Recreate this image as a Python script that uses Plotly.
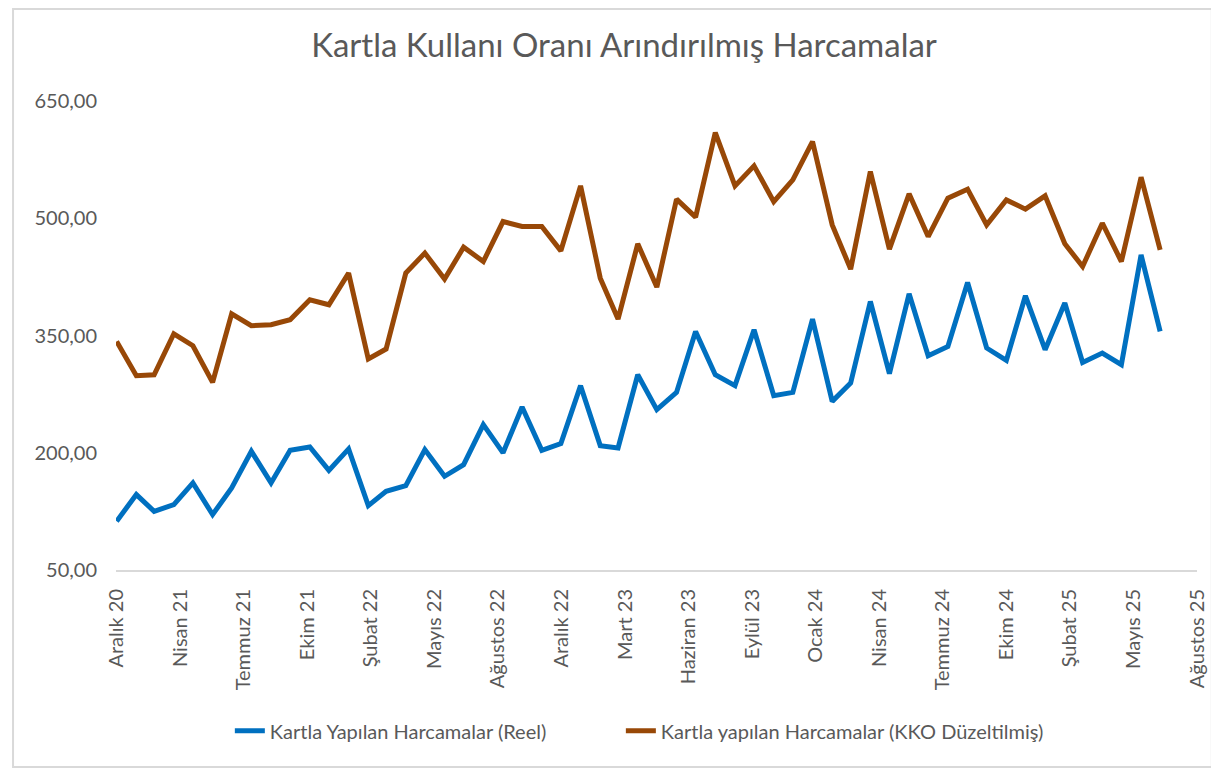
import pandas as pd
import plotly.graph_objects as go

# Monthly observations, Aralık 2020 – Haziran 2025 (month-end dates)
dates = pd.date_range("2020-12-31", periods=55, freq="ME")

reel = [112.4, 146.5, 125.1, 133.7, 161.4, 120.9, 155.0, 201.8, 161.4, 203.1,
        207.4, 177.5, 204.9, 132.4, 150.7, 158.0, 204.0, 169.9, 184.8, 236.0,
        199.8, 258.6, 203.1, 211.7, 285.8, 209.1, 206.2, 299.8, 255.1, 277.2,
        355.2, 299.8, 285.8, 357.4, 273.0, 277.2, 371.0, 265.7, 289.2, 393.5,
        301.1, 403.4, 324.1, 336.0, 417.8, 334.0, 318.1, 400.8, 331.8, 391.5,
        315.6, 327.6, 312.6, 453.2, 355.2]

kko = [342.4, 298.6, 299.8, 352.2, 336.9, 290.0, 377.8, 362.5, 363.7, 370.1,
       395.7, 389.3, 429.8, 319.9, 332.7, 429.8, 455.4, 422.2, 463.0, 444.6,
       495.8, 489.4, 489.4, 458.3, 541.4, 423.4, 371.0, 467.3, 411.9, 524.4,
       501.4, 609.5, 541.4, 567.0, 521.3, 549.0, 598.0, 491.5, 434.9, 559.7,
       460.5, 531.2, 476.6, 525.7, 537.2, 491.5, 523.5, 511.6, 528.6, 467.3,
       438.3, 493.7, 444.6, 552.5, 459.6]

tick_labels = ["Aralık 20", "Nisan 21", "Temmuz 21", "Ekim 21", "Şubat 22",
               "Mayıs 22", "Ağustos 22", "Aralık 22", "Mart 23", "Haziran 23",
               "Eylül 23", "Ocak 24", "Nisan 24", "Temmuz 24", "Ekim 24",
               "Şubat 25", "Mayıs 25", "Ağustos 25"]
tick_step_days = 100
tick_dates = [dates[0] + pd.Timedelta(days=tick_step_days * i) for i in range(len(tick_labels))]

series_names = ["Kartla Yapılan Harcamalar (Reel)",
                "Kartla yapılan Harcamalar (KKO Düzeltilmiş)"]
colors = ["#0070C0", "#984807"]
legend_ids = ["legend", "legend2"]

FONT = "Lato, 'Open Sans', sans-serif"
TXT = "#595959"

# page has an 8px body margin; figure is sized to fit the window
W, H = 1211, 760
L, T, PW, PH = 108, 93, 1092, 469
R, B = W - L - PW, H - T - PH

fig = go.Figure()
for name, vals, col, lg in zip(series_names, [reel, kko], colors, legend_ids):
    fig.add_trace(go.Scatter(
        x=dates, y=vals, name=name, mode="lines", legend=lg,
        line=dict(color=col, width=5, shape="linear"),
    ))

legend_common = dict(orientation="h", xanchor="left", y=-0.343, yanchor="middle",
                     font=dict(family=FONT, size=20, color=TXT),
                     bgcolor="rgba(0,0,0,0)")

fig.update_layout(
    width=W, height=H,
    paper_bgcolor="white", plot_bgcolor="white",
    margin=dict(l=L, r=R, t=T, b=B),
    separators=",.",
    font=dict(family=FONT, color=TXT, size=20),
    title=dict(text="Kartla Kullanı Oranı Arındırılmış Harcamalar",
               x=616 / W, xanchor="center", y=1 - 37 / H, yanchor="middle",
               font=dict(family=FONT, size=33, color=TXT)),
    showlegend=True,
    legend=dict(x=(223 - L) / PW, **legend_common),
    legend2=dict(x=(618 - L) / PW, **legend_common),
)

fig.update_xaxes(
    type="date",
    range=[dates[0] - pd.Timedelta(days=1), tick_dates[-1]],
    tickmode="array", tickvals=tick_dates, ticktext=tick_labels,
    tickangle=-90, ticks="", ticklabelstandoff=9,
    tickfont=dict(family=FONT, size=20, color=TXT),
    showline=True, linecolor="#D9D9D9", linewidth=2,
    showgrid=False, zeroline=False,
)
fig.update_yaxes(
    range=[50, 650], tick0=50, dtick=150, tickformat=".2f",
    ticks="", ticklabelstandoff=18,
    tickfont=dict(family=FONT, size=20, color=TXT),
    showline=False, showgrid=False, zeroline=False,
)

# chart-area border
fig.add_shape(type="rect", xref="paper", yref="paper",
              x0=(4 - L) / PW, x1=(W + 4 - L) / PW,
              y0=(T + PH - (H - 1)) / PH, y1=(T + PH - 1) / PH,
              line=dict(color="#D9D9D9", width=2), layer="below")

fig.write_html("out.html")
